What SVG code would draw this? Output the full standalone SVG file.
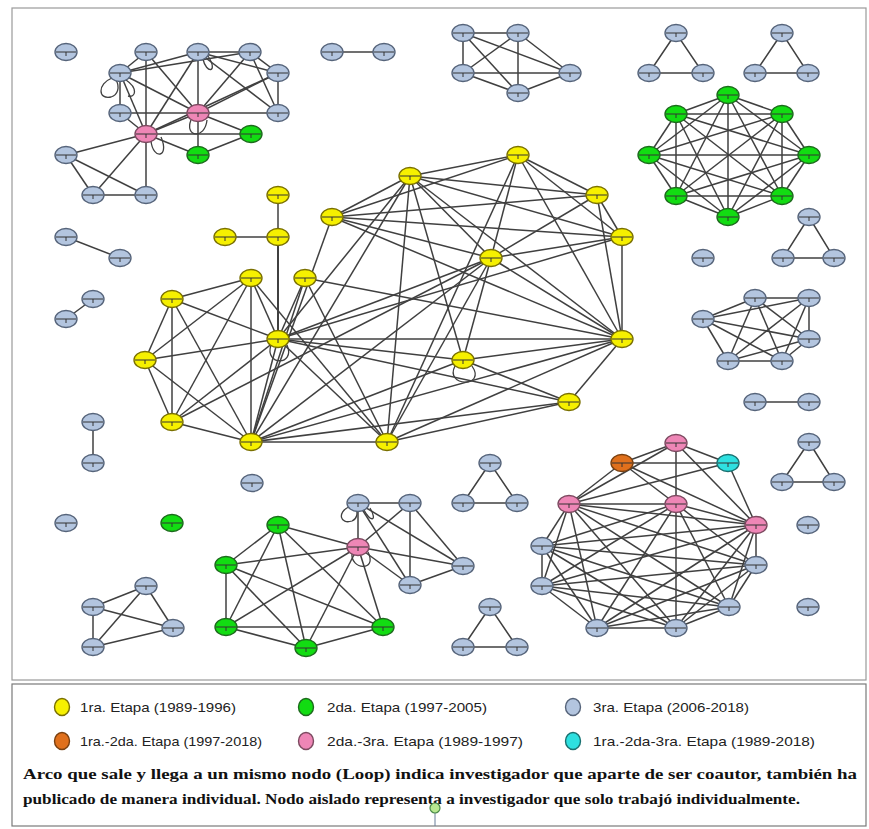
<svg xmlns="http://www.w3.org/2000/svg" xmlns:xlink="http://www.w3.org/1999/xlink" width="869" height="829" viewBox="0 0 869 829">
<style>
.e path{stroke:#404040;stroke-width:1.5;fill:none}
.lp{stroke:#404040;stroke-width:1.3;fill:none}
ellipse{stroke-width:1.4}
.b{fill:#b3c5df;stroke:#56647a}
.y{fill:#f6f000;stroke:#7a7000}
.g{fill:#12dc12;stroke:#1d6a1d}
.p{fill:#ee86b6;stroke:#7c4a60}
.o{fill:#e0701c;stroke:#7a4010}
.c{fill:#2ee0e0;stroke:#1a7070}
.mk line{stroke:#333;stroke-width:1}
.lg{font-family:"Liberation Sans Narrow","Liberation Sans",Arial,sans-serif;font-size:13.5px;fill:#222}
.tx{font-family:"Liberation Serif","Times New Roman",serif;font-size:14px;font-weight:bold;fill:#111}
</style>
<defs>
<g id="mk" class="mk"><line x1="-10" y1="0" x2="10" y2="0"/><line x1="0" y1="0" x2="0" y2="4"/></g>
</defs>
<rect x="12" y="8" width="854" height="672" fill="#fff" stroke="#9a9a9a" stroke-width="1.2"/>
<rect x="12" y="684" width="854" height="142" fill="#fff" stroke="#7a7a7a" stroke-width="1.2"/>
<g id="connectors" class="e">
<!-- top-left cluster -->
<path d="M146 52L146 134"/><path d="M146 134L146 195"/><path d="M198 52L198 113"/><path d="M198 113L198 155"/>
<path d="M198 52L250 52"/><path d="M250 52L278 73"/><path d="M120 73L120 113"/><path d="M278 73L278 113"/>
<path d="M120 113L198 113"/><path d="M198 113L278 113"/><path d="M146 134L251 134"/><path d="M198 113L251 134"/>
<path d="M198 155L251 134"/><path d="M198 155L146 134"/><path d="M198 113L146 134"/><path d="M146 52L120 73"/>
<path d="M146 52L198 113"/><path d="M198 52L120 73"/><path d="M198 52L278 73"/><path d="M198 52L146 134"/>
<path d="M250 52L198 113"/><path d="M250 52L120 73"/><path d="M250 52L278 113"/><path d="M278 73L198 113"/>
<path d="M120 73L198 113"/><path d="M278 73L146 134"/><path d="M120 73L146 134"/><path d="M198 52L278 113"/>
<path d="M66 155L146 134"/><path d="M66 155L93 195"/><path d="M66 155L146 195"/><path d="M93 195L146 134"/>
<path d="M93 195L146 195"/><path d="M120 113L146 134"/>
<!-- top middle -->
<path d="M332 52L384 52"/>
<path d="M463 33L518 33"/><path d="M463 33L463 73"/><path d="M463 33L570 73"/><path d="M463 33L518 93"/>
<path d="M518 33L463 73"/><path d="M518 33L570 73"/><path d="M518 33L518 93"/><path d="M463 73L570 73"/>
<path d="M463 73L518 93"/><path d="M570 73L518 93"/>
<!-- triangles top right -->
<path d="M676 33L649 73L703 73Z"/><path d="M782 33L755 73L808 73Z"/>
<!-- green K8 -->
<path d="M728 95L676 114"/><path d="M728 95L782 114"/><path d="M728 95L649 155"/><path d="M728 95L809 155"/>
<path d="M728 95L676 196"/><path d="M728 95L782 196"/><path d="M728 95L728 217"/>
<path d="M676 114L782 114"/><path d="M676 114L649 155"/><path d="M676 114L809 155"/><path d="M676 114L676 196"/>
<path d="M676 114L782 196"/><path d="M676 114L728 217"/>
<path d="M782 114L649 155"/><path d="M782 114L809 155"/><path d="M782 114L676 196"/><path d="M782 114L782 196"/><path d="M782 114L728 217"/>
<path d="M649 155L809 155"/><path d="M649 155L676 196"/><path d="M649 155L782 196"/><path d="M649 155L728 217"/>
<path d="M809 155L676 196"/><path d="M809 155L782 196"/><path d="M809 155L728 217"/>
<path d="M676 196L782 196"/><path d="M676 196L728 217"/><path d="M782 196L728 217"/>
<!-- right side -->
<path d="M809 217L783 258L834 258Z"/>
<path d="M755 298L809 298"/><path d="M755 298L703 319"/><path d="M755 298L809 339"/><path d="M755 298L728 361"/><path d="M755 298L782 361"/>
<path d="M809 298L703 319"/><path d="M809 298L809 339"/><path d="M809 298L728 361"/><path d="M809 298L782 361"/>
<path d="M703 319L809 339"/><path d="M703 319L728 361"/><path d="M703 319L782 361"/>
<path d="M809 339L728 361"/><path d="M809 339L782 361"/><path d="M728 361L782 361"/>
<path d="M755 402L809 402"/>
<path d="M809 442L782 482L834 482Z"/>
<!-- left pairs -->
<path d="M66 237L120 258"/><path d="M93 299L66 319"/><path d="M93 422L93 463"/>
<!-- yellow cluster -->
<path d="M278 195L278 237"/><path d="M225 237L278 237"/><path d="M278 237L278 339" style="stroke-width:2"/>
<path d="M172 299L251 278"/><path d="M172 299L172 422"/><path d="M172 299L278 339"/><path d="M172 299L251 442"/><path d="M172 299L145 360"/>
<path d="M145 360L251 278"/><path d="M145 360L278 339"/><path d="M145 360L172 422"/><path d="M145 360L251 442"/>
<path d="M251 278L278 339"/><path d="M251 278L251 442"/><path d="M251 278L172 422"/><path d="M251 278L387 442"/>
<path d="M305 278L278 339"/><path d="M305 278L251 442"/><path d="M305 278L387 442"/><path d="M305 278L622 339"/>
<path d="M278 339L251 442"/><path d="M278 339L387 442"/><path d="M278 339L622 339"/><path d="M278 339L463 360"/>
<path d="M278 339L569 402"/><path d="M278 339L410 176"/><path d="M278 339L491 258"/><path d="M278 339L172 422"/><path d="M278 339L622 237"/>
<path d="M251 442L387 442"/><path d="M251 442L410 176"/><path d="M251 442L491 258"/><path d="M251 442L622 339"/>
<path d="M251 442L463 360"/><path d="M251 442L569 402"/><path d="M251 442L172 422"/><path d="M251 442L332 217"/>
<path d="M387 442L410 176"/><path d="M387 442L491 258"/><path d="M387 442L622 339"/><path d="M387 442L569 402"/><path d="M387 442L518 155"/>
<path d="M332 217L410 176"/><path d="M332 217L518 155"/><path d="M332 217L597 195"/><path d="M332 217L622 237"/>
<path d="M332 217L491 258"/><path d="M332 217L622 339"/>
<path d="M410 176L518 155"/><path d="M410 176L597 195"/><path d="M410 176L622 237"/><path d="M410 176L491 258"/>
<path d="M410 176L622 339"/><path d="M410 176L463 360"/>
<path d="M518 155L597 195"/><path d="M518 155L622 237"/><path d="M518 155L622 339"/><path d="M518 155L491 258"/>
<path d="M597 195L622 237"/><path d="M597 195L622 339"/><path d="M597 195L491 258"/>
<path d="M622 237L622 339"/><path d="M622 237L491 258"/>
<path d="M491 258L622 339"/><path d="M491 258L463 360"/>
<path d="M622 339L463 360"/><path d="M622 339L569 402"/><path d="M463 360L569 402"/>
<path d="M172 422L491 258"/>
<!-- bottom-left green/pink -->
<path d="M358 503L410 503"/><path d="M358 503L358 547"/><path d="M358 503L410 585"/><path d="M358 503L463 566"/>
<path d="M410 503L410 585"/><path d="M410 503L463 566"/><path d="M410 503L358 547"/><path d="M358 547L463 566"/>
<path d="M358 547L410 585"/><path d="M410 585L463 566"/>
<path d="M358 547L278 525"/><path d="M358 547L226 565"/><path d="M358 547L226 627"/><path d="M358 547L306 648"/><path d="M358 547L383 627"/>
<path d="M278 525L226 565"/><path d="M278 525L226 627"/><path d="M278 525L306 648"/><path d="M278 525L383 627"/>
<path d="M226 565L226 627"/><path d="M226 565L306 648"/><path d="M226 565L383 627"/>
<path d="M226 627L306 648"/><path d="M226 627L383 627"/><path d="M306 648L383 627"/>
<path d="M490 463L463 503L517 503Z"/><path d="M490 607L463 647L517 647Z"/>
<!-- bottom-left small -->
<path d="M146 586L93 607"/><path d="M146 586L173 628"/><path d="M146 586L93 647"/>
<path d="M93 607L173 628"/><path d="M93 607L93 647"/><path d="M173 628L93 647"/>
<!-- bottom-right cluster -->
<path d="M622 463L676 443"/><path d="M622 463L728 463"/><path d="M676 443L728 463"/><path d="M676 443L676 504"/>
<path d="M622 463L569 504"/><path d="M569 504L728 463"/><path d="M676 443L569 504"/><path d="M676 443L756 525"/>
<path d="M728 463L756 525"/><path d="M622 463L756 525"/><path d="M622 463L676 504"/>
<path d="M569 504L676 504"/><path d="M569 504L756 525"/><path d="M569 504L542 546"/><path d="M569 504L542 586"/>
<path d="M569 504L756 565"/><path d="M569 504L729 607"/><path d="M569 504L597 628"/><path d="M569 504L676 628"/>
<path d="M676 504L756 525"/><path d="M676 504L542 546"/><path d="M676 504L542 586"/><path d="M676 504L756 565"/>
<path d="M676 504L729 607"/><path d="M676 504L597 628"/><path d="M676 504L676 628"/>
<path d="M756 525L542 546"/><path d="M756 525L542 586"/><path d="M756 525L756 565"/><path d="M756 525L729 607"/>
<path d="M756 525L597 628"/><path d="M756 525L676 628"/>
<path d="M542 546L542 586"/><path d="M542 546L756 565"/><path d="M542 546L729 607"/><path d="M542 546L597 628"/><path d="M542 546L676 628"/>
<path d="M542 586L756 565"/><path d="M542 586L729 607"/><path d="M542 586L597 628"/><path d="M542 586L676 628"/>
<path d="M756 565L729 607"/><path d="M756 565L597 628"/><path d="M756 565L676 628"/>
<path d="M729 607L597 628"/><path d="M729 607L676 628"/><path d="M597 628L676 628"/>
</g>
<g id="loops">
<path class="lp" d="M112 78C97 84 98 100 111 97C118 95 120 87 116 80"/>
<path class="lp" d="M126 80C138 88 136 98 128 96"/>
<path class="lp" d="M203 59C206 74 219 73 208 56"/>
<path class="lp" d="M191 120C184 137 205 140 207 120"/>
<path class="lp" d="M151 141C153 160 170 158 161 137"/>
<path class="lp" d="M271 345C264 366 296 366 287 345"/>
<path class="lp" d="M455 366C444 387 487 388 472 366"/>
<path class="lp" d="M349 507C337 512 340 525 352 521C357 519 358 513 356 509"/>
<path class="lp" d="M364 510C370 522 378 522 370 508"/>
<path class="lp" d="M352 553C350 570 378 572 368 552"/>
</g>
<g id="nodes">
<g id="n01" transform="translate(66 52)"><ellipse class="b" rx="11" ry="8.5"/><use href="#mk"/></g>
<g id="n02" transform="translate(146 52)"><ellipse class="b" rx="11" ry="8.5"/><use href="#mk"/></g>
<g id="n03" transform="translate(198 52)"><ellipse class="b" rx="11" ry="8.5"/><use href="#mk"/></g>
<g id="n04" transform="translate(250 52)"><ellipse class="b" rx="11" ry="8.5"/><use href="#mk"/></g>
<g id="n05" transform="translate(120 73)"><ellipse class="b" rx="11" ry="8.5"/><use href="#mk"/></g>
<g id="n06" transform="translate(278 73)"><ellipse class="b" rx="11" ry="8.5"/><use href="#mk"/></g>
<g id="n07" transform="translate(120 113)"><ellipse class="b" rx="11" ry="8.5"/><use href="#mk"/></g>
<g id="n08" transform="translate(198 113)"><ellipse class="p" rx="11" ry="8.5"/><use href="#mk"/></g>
<g id="n09" transform="translate(278 113)"><ellipse class="b" rx="11" ry="8.5"/><use href="#mk"/></g>
<g id="n10" transform="translate(146 134)"><ellipse class="p" rx="11" ry="8.5"/><use href="#mk"/></g>
<g id="n11" transform="translate(251 134)"><ellipse class="g" rx="11" ry="8.5"/><use href="#mk"/></g>
<g id="n12" transform="translate(198 155)"><ellipse class="g" rx="11" ry="8.5"/><use href="#mk"/></g>
<g id="n13" transform="translate(66 155)"><ellipse class="b" rx="11" ry="8.5"/><use href="#mk"/></g>
<g id="n14" transform="translate(93 195)"><ellipse class="b" rx="11" ry="8.5"/><use href="#mk"/></g>
<g id="n15" transform="translate(146 195)"><ellipse class="b" rx="11" ry="8.5"/><use href="#mk"/></g>
<g id="n16" transform="translate(332 52)"><ellipse class="b" rx="11" ry="8.5"/><use href="#mk"/></g>
<g id="n17" transform="translate(384 52)"><ellipse class="b" rx="11" ry="8.5"/><use href="#mk"/></g>
<g id="n18" transform="translate(463 33)"><ellipse class="b" rx="11" ry="8.5"/><use href="#mk"/></g>
<g id="n19" transform="translate(518 33)"><ellipse class="b" rx="11" ry="8.5"/><use href="#mk"/></g>
<g id="n20" transform="translate(463 73)"><ellipse class="b" rx="11" ry="8.5"/><use href="#mk"/></g>
<g id="n21" transform="translate(570 73)"><ellipse class="b" rx="11" ry="8.5"/><use href="#mk"/></g>
<g id="n22" transform="translate(518 93)"><ellipse class="b" rx="11" ry="8.5"/><use href="#mk"/></g>
<g id="n23" transform="translate(676 33)"><ellipse class="b" rx="11" ry="8.5"/><use href="#mk"/></g>
<g id="n24" transform="translate(649 73)"><ellipse class="b" rx="11" ry="8.5"/><use href="#mk"/></g>
<g id="n25" transform="translate(703 73)"><ellipse class="b" rx="11" ry="8.5"/><use href="#mk"/></g>
<g id="n26" transform="translate(782 33)"><ellipse class="b" rx="11" ry="8.5"/><use href="#mk"/></g>
<g id="n27" transform="translate(755 73)"><ellipse class="b" rx="11" ry="8.5"/><use href="#mk"/></g>
<g id="n28" transform="translate(808 73)"><ellipse class="b" rx="11" ry="8.5"/><use href="#mk"/></g>
<g id="n29" transform="translate(728 95)"><ellipse class="g" rx="11" ry="8.5"/><use href="#mk"/></g>
<g id="n30" transform="translate(676 114)"><ellipse class="g" rx="11" ry="8.5"/><use href="#mk"/></g>
<g id="n31" transform="translate(782 114)"><ellipse class="g" rx="11" ry="8.5"/><use href="#mk"/></g>
<g id="n32" transform="translate(649 155)"><ellipse class="g" rx="11" ry="8.5"/><use href="#mk"/></g>
<g id="n33" transform="translate(809 155)"><ellipse class="g" rx="11" ry="8.5"/><use href="#mk"/></g>
<g id="n34" transform="translate(676 196)"><ellipse class="g" rx="11" ry="8.5"/><use href="#mk"/></g>
<g id="n35" transform="translate(782 196)"><ellipse class="g" rx="11" ry="8.5"/><use href="#mk"/></g>
<g id="n36" transform="translate(728 217)"><ellipse class="g" rx="11" ry="8.5"/><use href="#mk"/></g>
<g id="n37" transform="translate(809 217)"><ellipse class="b" rx="11" ry="8.5"/><use href="#mk"/></g>
<g id="n38" transform="translate(783 258)"><ellipse class="b" rx="11" ry="8.5"/><use href="#mk"/></g>
<g id="n39" transform="translate(834 258)"><ellipse class="b" rx="11" ry="8.5"/><use href="#mk"/></g>
<g id="n40" transform="translate(703 258)"><ellipse class="b" rx="11" ry="8.5"/><use href="#mk"/></g>
<g id="n41" transform="translate(755 298)"><ellipse class="b" rx="11" ry="8.5"/><use href="#mk"/></g>
<g id="n42" transform="translate(809 298)"><ellipse class="b" rx="11" ry="8.5"/><use href="#mk"/></g>
<g id="n43" transform="translate(703 319)"><ellipse class="b" rx="11" ry="8.5"/><use href="#mk"/></g>
<g id="n44" transform="translate(809 339)"><ellipse class="b" rx="11" ry="8.5"/><use href="#mk"/></g>
<g id="n45" transform="translate(728 361)"><ellipse class="b" rx="11" ry="8.5"/><use href="#mk"/></g>
<g id="n46" transform="translate(782 361)"><ellipse class="b" rx="11" ry="8.5"/><use href="#mk"/></g>
<g id="n47" transform="translate(755 402)"><ellipse class="b" rx="11" ry="8.5"/><use href="#mk"/></g>
<g id="n48" transform="translate(809 402)"><ellipse class="b" rx="11" ry="8.5"/><use href="#mk"/></g>
<g id="n49" transform="translate(809 442)"><ellipse class="b" rx="11" ry="8.5"/><use href="#mk"/></g>
<g id="n50" transform="translate(782 482)"><ellipse class="b" rx="11" ry="8.5"/><use href="#mk"/></g>
<g id="n51" transform="translate(834 482)"><ellipse class="b" rx="11" ry="8.5"/><use href="#mk"/></g>
<g id="n52" transform="translate(808 525)"><ellipse class="b" rx="11" ry="8.5"/><use href="#mk"/></g>
<g id="n53" transform="translate(808 607)"><ellipse class="b" rx="11" ry="8.5"/><use href="#mk"/></g>
<g id="n54" transform="translate(66 237)"><ellipse class="b" rx="11" ry="8.5"/><use href="#mk"/></g>
<g id="n55" transform="translate(120 258)"><ellipse class="b" rx="11" ry="8.5"/><use href="#mk"/></g>
<g id="n56" transform="translate(93 299)"><ellipse class="b" rx="11" ry="8.5"/><use href="#mk"/></g>
<g id="n57" transform="translate(66 319)"><ellipse class="b" rx="11" ry="8.5"/><use href="#mk"/></g>
<g id="n58" transform="translate(93 422)"><ellipse class="b" rx="11" ry="8.5"/><use href="#mk"/></g>
<g id="n59" transform="translate(93 463)"><ellipse class="b" rx="11" ry="8.5"/><use href="#mk"/></g>
<g id="n60" transform="translate(66 523)"><ellipse class="b" rx="11" ry="8.5"/><use href="#mk"/></g>
<g id="n61" transform="translate(172 523)"><ellipse class="g" rx="11" ry="8.5"/><use href="#mk"/></g>
<g id="n62" transform="translate(252 483)"><ellipse class="b" rx="11" ry="8.5"/><use href="#mk"/></g>
<g id="n63" transform="translate(278 195)"><ellipse class="y" rx="11" ry="8.5"/><use href="#mk"/></g>
<g id="n64" transform="translate(225 237)"><ellipse class="y" rx="11" ry="8.5"/><use href="#mk"/></g>
<g id="n65" transform="translate(278 237)"><ellipse class="y" rx="11" ry="8.5"/><use href="#mk"/></g>
<g id="n66" transform="translate(332 217)"><ellipse class="y" rx="11" ry="8.5"/><use href="#mk"/></g>
<g id="n67" transform="translate(410 176)"><ellipse class="y" rx="11" ry="8.5"/><use href="#mk"/></g>
<g id="n68" transform="translate(518 155)"><ellipse class="y" rx="11" ry="8.5"/><use href="#mk"/></g>
<g id="n69" transform="translate(597 195)"><ellipse class="y" rx="11" ry="8.5"/><use href="#mk"/></g>
<g id="n70" transform="translate(622 237)"><ellipse class="y" rx="11" ry="8.5"/><use href="#mk"/></g>
<g id="n71" transform="translate(491 258)"><ellipse class="y" rx="11" ry="8.5"/><use href="#mk"/></g>
<g id="n72" transform="translate(251 278)"><ellipse class="y" rx="11" ry="8.5"/><use href="#mk"/></g>
<g id="n73" transform="translate(305 278)"><ellipse class="y" rx="11" ry="8.5"/><use href="#mk"/></g>
<g id="n74" transform="translate(172 299)"><ellipse class="y" rx="11" ry="8.5"/><use href="#mk"/></g>
<g id="n75" transform="translate(278 339)"><ellipse class="y" rx="11" ry="8.5"/><use href="#mk"/></g>
<g id="n76" transform="translate(622 339)"><ellipse class="y" rx="11" ry="8.5"/><use href="#mk"/></g>
<g id="n77" transform="translate(145 360)"><ellipse class="y" rx="11" ry="8.5"/><use href="#mk"/></g>
<g id="n78" transform="translate(463 360)"><ellipse class="y" rx="11" ry="8.5"/><use href="#mk"/></g>
<g id="n79" transform="translate(569 402)"><ellipse class="y" rx="11" ry="8.5"/><use href="#mk"/></g>
<g id="n80" transform="translate(172 422)"><ellipse class="y" rx="11" ry="8.5"/><use href="#mk"/></g>
<g id="n81" transform="translate(251 442)"><ellipse class="y" rx="11" ry="8.5"/><use href="#mk"/></g>
<g id="n82" transform="translate(387 442)"><ellipse class="y" rx="11" ry="8.5"/><use href="#mk"/></g>
<g id="n83" transform="translate(358 503)"><ellipse class="b" rx="11" ry="8.5"/><use href="#mk"/></g>
<g id="n84" transform="translate(410 503)"><ellipse class="b" rx="11" ry="8.5"/><use href="#mk"/></g>
<g id="n85" transform="translate(358 547)"><ellipse class="p" rx="11" ry="8.5"/><use href="#mk"/></g>
<g id="n86" transform="translate(463 566)"><ellipse class="b" rx="11" ry="8.5"/><use href="#mk"/></g>
<g id="n87" transform="translate(410 585)"><ellipse class="b" rx="11" ry="8.5"/><use href="#mk"/></g>
<g id="n88" transform="translate(278 525)"><ellipse class="g" rx="11" ry="8.5"/><use href="#mk"/></g>
<g id="n89" transform="translate(226 565)"><ellipse class="g" rx="11" ry="8.5"/><use href="#mk"/></g>
<g id="n90" transform="translate(226 627)"><ellipse class="g" rx="11" ry="8.5"/><use href="#mk"/></g>
<g id="n91" transform="translate(306 648)"><ellipse class="g" rx="11" ry="8.5"/><use href="#mk"/></g>
<g id="n92" transform="translate(383 627)"><ellipse class="g" rx="11" ry="8.5"/><use href="#mk"/></g>
<g id="n93" transform="translate(490 463)"><ellipse class="b" rx="11" ry="8.5"/><use href="#mk"/></g>
<g id="n94" transform="translate(463 503)"><ellipse class="b" rx="11" ry="8.5"/><use href="#mk"/></g>
<g id="n95" transform="translate(517 503)"><ellipse class="b" rx="11" ry="8.5"/><use href="#mk"/></g>
<g id="n96" transform="translate(490 607)"><ellipse class="b" rx="11" ry="8.5"/><use href="#mk"/></g>
<g id="n97" transform="translate(463 647)"><ellipse class="b" rx="11" ry="8.5"/><use href="#mk"/></g>
<g id="n98" transform="translate(517 647)"><ellipse class="b" rx="11" ry="8.5"/><use href="#mk"/></g>
<g id="n99" transform="translate(146 586)"><ellipse class="b" rx="11" ry="8.5"/><use href="#mk"/></g>
<g id="n100" transform="translate(93 607)"><ellipse class="b" rx="11" ry="8.5"/><use href="#mk"/></g>
<g id="n101" transform="translate(173 628)"><ellipse class="b" rx="11" ry="8.5"/><use href="#mk"/></g>
<g id="n102" transform="translate(93 647)"><ellipse class="b" rx="11" ry="8.5"/><use href="#mk"/></g>
<g id="n103" transform="translate(676 443)"><ellipse class="p" rx="11" ry="8.5"/><use href="#mk"/></g>
<g id="n104" transform="translate(622 463)"><ellipse class="o" rx="11" ry="8.5"/><use href="#mk"/></g>
<g id="n105" transform="translate(728 463)"><ellipse class="c" rx="11" ry="8.5"/><use href="#mk"/></g>
<g id="n106" transform="translate(569 504)"><ellipse class="p" rx="11" ry="8.5"/><use href="#mk"/></g>
<g id="n107" transform="translate(676 504)"><ellipse class="p" rx="11" ry="8.5"/><use href="#mk"/></g>
<g id="n108" transform="translate(756 525)"><ellipse class="p" rx="11" ry="8.5"/><use href="#mk"/></g>
<g id="n109" transform="translate(542 546)"><ellipse class="b" rx="11" ry="8.5"/><use href="#mk"/></g>
<g id="n110" transform="translate(542 586)"><ellipse class="b" rx="11" ry="8.5"/><use href="#mk"/></g>
<g id="n111" transform="translate(756 565)"><ellipse class="b" rx="11" ry="8.5"/><use href="#mk"/></g>
<g id="n112" transform="translate(729 607)"><ellipse class="b" rx="11" ry="8.5"/><use href="#mk"/></g>
<g id="n113" transform="translate(597 628)"><ellipse class="b" rx="11" ry="8.5"/><use href="#mk"/></g>
<g id="n114" transform="translate(676 628)"><ellipse class="b" rx="11" ry="8.5"/><use href="#mk"/></g>
</g>
<g id="legend">
<ellipse class="y" cx="62" cy="707" rx="7.5" ry="8.5"/>
<text class="lg" x="80" y="712" textLength="156" lengthAdjust="spacingAndGlyphs">1ra. Etapa (1989-1996)</text>
<ellipse class="g" cx="306" cy="707" rx="7.5" ry="8.5"/>
<text class="lg" x="327" y="712" textLength="160" lengthAdjust="spacingAndGlyphs">2da. Etapa (1997-2005)</text>
<ellipse class="b" cx="573" cy="707" rx="7.5" ry="8.5"/>
<text class="lg" x="593" y="712" textLength="156" lengthAdjust="spacingAndGlyphs">3ra. Etapa (2006-2018)</text>
<ellipse class="o" cx="62" cy="741" rx="7.5" ry="8.5"/>
<text class="lg" x="80" y="746" textLength="182" lengthAdjust="spacingAndGlyphs">1ra.-2da. Etapa (1997-2018)</text>
<ellipse class="p" cx="306" cy="741" rx="7.5" ry="8.5"/>
<text class="lg" x="327" y="746" textLength="196" lengthAdjust="spacingAndGlyphs">2da.-3ra. Etapa (1989-1997)</text>
<ellipse class="c" cx="573" cy="741" rx="7.5" ry="8.5"/>
<text class="lg" x="593" y="746" textLength="222" lengthAdjust="spacingAndGlyphs">1ra.-2da-3ra. Etapa (1989-2018)</text>
<text class="tx" x="23" y="779" textLength="834" lengthAdjust="spacingAndGlyphs">Arco que sale y llega a un mismo nodo (Loop) indica investigador que aparte de ser coautor, también ha</text>
<text class="tx" x="23" y="804" textLength="777" lengthAdjust="spacingAndGlyphs">publicado de manera individual. Nodo aislado representa a investigador que solo trabajó individualmente.</text>
<line x1="435" y1="813" x2="435" y2="826" stroke="#6a7f9a" stroke-width="1"/>
<circle cx="435" cy="808" r="5" fill="#b8e890" stroke="#4a8a4a" stroke-width="1.2"/>
</g>
</svg>
